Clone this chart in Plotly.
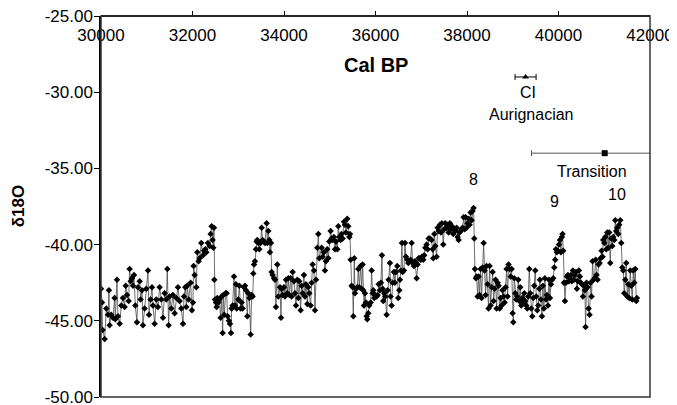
import plotly.graph_objects as go

# GISP2-style delta18O record
cal_bp = [
    30000, 30021, 30036, 30080, 30116, 30153, 30174, 30189, 30225, 30262, 30298, 30313, 30349, 30371, 30408,
    30444, 30480, 30517, 30539, 30568, 30604, 30626, 30648, 30677, 30699, 30721, 30750, 30786, 30808, 30845,
    30866, 30896, 30917, 30954, 30990, 31027, 31049, 31085, 31114, 31136, 31172, 31209, 31245, 31282, 31318,
    31355, 31391, 31428, 31449, 31478, 31500, 31537, 31573, 31610, 31646, 31682, 31719, 31755, 31792, 31814,
    31843, 31865, 31886, 31916, 31959, 31988, 32010, 32025, 32047, 32083, 32105, 32134, 32156, 32192, 32229,
    32251, 32280, 32302, 32338, 32374,
    32397, 32418, 32440, 32455, 32469, 32477, 32491, 32513, 32528, 32542, 32564, 32586, 32615, 32637, 32659,
    32673, 32695, 32724, 32746, 32768, 32797, 32819, 32841, 32856, 32877, 32907, 32928, 32950, 32965, 33001,
    33023, 33052, 33074, 33096, 33125, 33147, 33169, 33198, 33220, 33242, 33271, 33293, 33314, 33329, 33344,
    33365, 33387, 33402, 33416, 33438, 33460, 33489, 33511, 33533, 33562, 33584, 33620, 33635, 33657, 33679,
    33693, 33715, 33730, 33752, 33781, 33803, 33824, 33854, 33876, 33912, 33934, 33948, 33970, 33999, 34021,
    34043, 34072, 34094, 34116, 34145, 34167, 34189, 34218, 34240, 34262, 34291, 34313, 34334, 34364, 34385,
    34407, 34436, 34458, 34480, 34509, 34531, 34553, 34582, 34604, 34626, 34655, 34677, 34699, 34728, 34750,
    34771,
    34822, 34844, 34873, 34895, 34917, 34946, 34968, 34990, 35019, 35041, 35063, 35092, 35114, 35136, 35165,
    35187, 35209, 35238, 35260, 35281, 35311, 35332, 35354, 35383, 35405, 35427, 35442, 35456, 35478, 35500,
    35515, 35536, 35551, 35573, 35602, 35624, 35646, 35675, 35697, 35718, 35733, 35748, 35769, 35791, 35806,
    35820, 35842, 35864, 35893, 35915, 35937, 35952, 35973, 35995, 36024, 36046, 36068, 36097, 36119, 36141,
    36156, 36170, 36192, 36214, 36243, 36265, 36287, 36316, 36330, 36352, 36374, 36403, 36425, 36447, 36476,
    36498, 36520, 36534, 36556, 36578, 36593, 36622, 36644, 36666, 36695, 36717, 36738, 36768, 36789, 36811,
    36840, 36862, 36899, 36920, 36942, 36971, 36993, 37015, 37044, 37066, 37088, 37117, 37139, 37161,
    37190, 37226, 37248, 37263, 37285, 37307, 37336, 37358, 37379, 37409, 37430, 37452, 37481, 37503, 37525,
    37554, 37576, 37598, 37627, 37649, 37671, 37700, 37722, 37744, 37773, 37795, 37817, 37838, 37860, 37882,
    37904, 37926, 37948, 37970, 37991, 38013, 38035, 38057, 38079, 38101, 38122, 38144, 38159, 38173, 38195,
    38210, 38232, 38254, 38275, 38297, 38319, 38341, 38363, 38385, 38407, 38428, 38450, 38472, 38494, 38516,
    38538, 38560, 38581, 38603, 38625, 38647, 38669, 38691, 38713, 38734, 38756, 38778, 38800, 38822, 38844,
    38866, 38887, 38909, 38931, 38953, 38975, 38997, 39011, 39033, 39055, 39077, 39099, 39121, 39142, 39164,
    39186, 39208, 39230, 39252, 39273, 39295, 39317, 39339, 39361, 39383, 39405, 39426, 39448, 39470, 39492,
    39514, 39536, 39558, 39580,
    39594, 39616, 39638, 39660, 39681, 39703, 39725, 39747, 39769, 39791, 39813, 39834, 39856, 39885, 39907,
    39929, 39944, 39966, 39987, 40009, 40031, 40053, 40075, 40089, 40104, 40119, 40140, 40162, 40184, 40206,
    40228, 40250, 40271, 40293, 40315, 40337, 40359, 40381, 40403, 40424, 40446, 40468, 40490, 40512, 40534,
    40556, 40577, 40592, 40614, 40636, 40658, 40679, 40701, 40723, 40745, 40767, 40789, 40811, 40832, 40854,
    40876, 40898, 40920, 40942, 40964, 40978, 41000, 41022, 41044, 41066, 41087, 41109, 41131, 41153, 41175,
    41197, 41219, 41240, 41262, 41284, 41306, 41328, 41350, 41372, 41393, 41415, 41437, 41459, 41481, 41503,
    41525, 41546, 41568, 41590, 41612, 41634, 41656, 41678, 41700, 41714,
]

d18o = [
    -42.9, -43.8, -45.6, -46.2, -44.2, -44.6, -43.0, -45.3, -44.6, -44.8, -43.5, -44.9, -42.3, -44.7, -45.2,
    -44.0, -43.5, -44.1, -42.7, -43.3, -43.7, -41.6, -42.4, -42.2, -42.7, -42.0, -44.0, -45.1, -42.8, -42.4,
    -43.6, -43.0, -45.3, -44.2, -42.9, -41.7, -44.6, -43.6, -42.8, -44.0, -45.2, -43.6, -44.1, -42.8, -43.6,
    -44.8, -43.2, -43.6, -41.6, -45.3, -43.4, -44.2, -43.3, -44.5, -43.5, -42.8, -43.7, -44.2, -45.2, -43.4,
    -42.8, -44.1, -42.7, -43.6, -42.5, -44.3, -43.8, -41.4, -42.0, -42.8, -40.5, -41.1, -40.9, -39.9, -40.7,
    -40.4, -40.3, -40.5, -39.9, -40.1,
    -39.3, -38.8, -39.7, -40.2, -38.9, -42.3, -43.6, -43.8, -44.1, -43.5, -43.8, -43.6, -44.8, -43.4, -45.8,
    -43.3, -44.6, -43.2, -43.2, -44.7, -45.0, -45.2, -45.8, -44.2, -44.0, -42.1, -44.0, -42.6, -44.2, -43.6,
    -42.7, -44.2, -43.8, -44.2, -42.8, -42.7, -43.0, -44.7, -43.2, -43.5, -45.9, -43.3, -43.4, -41.9, -41.3,
    -41.1, -40.3, -39.8, -39.7, -39.9, -40.3, -39.9, -38.9, -39.7, -39.8, -39.9, -38.6, -39.9, -39.1, -39.7,
    -40.5, -39.9, -41.8, -42.0, -42.2, -42.3, -44.1, -41.3, -43.4, -42.8, -44.8, -42.9, -43.3, -42.8, -43.4,
    -42.3, -43.2, -42.2, -43.3, -42.2, -43.4, -41.8, -42.4, -43.2, -44.0, -42.3, -43.5, -42.4, -44.3, -42.7,
    -43.2, -42.0, -43.4, -42.6, -43.9, -42.8, -43.2, -44.0, -42.5, -41.3, -41.7, -44.3, -42.3, -40.2, -39.3,
    -40.9,
    -40.2, -40.8, -40.5, -41.7, -41.1, -40.3, -40.9, -39.8, -39.1, -39.6, -39.7, -39.5, -40.3, -39.8, -40.3,
    -38.8, -39.5, -39.7, -39.3, -39.6, -38.5, -38.7, -39.2, -38.3, -38.8, -39.5, -39.3, -41.0, -42.7, -42.8,
    -44.7, -40.9, -43.2, -42.9, -42.8, -41.6, -42.8, -41.4, -42.9, -41.3, -43.0, -44.0, -43.2, -43.8, -44.7,
    -44.9, -44.5, -44.0, -43.8, -41.7, -43.2, -43.0, -43.5, -43.3, -43.4, -43.3, -42.6, -43.0, -42.5, -40.7,
    -42.9, -43.7, -43.2, -43.4, -44.6, -43.0, -42.3, -41.2, -43.4, -44.0, -42.5, -41.8, -42.5, -41.8, -41.4,
    -43.5, -43.0, -42.3, -41.7, -39.9, -41.8, -41.7, -39.9, -40.8, -41.0, -41.2, -41.1, -41.0, -39.9, -41.2,
    -41.4, -41.1, -42.2, -41.3, -40.9, -40.9, -41.0, -40.8, -41.0, -40.7, -40.2, -40.0, -40.3, -39.6,
    -39.6, -39.7, -40.3, -40.9, -39.3, -40.1, -40.8, -38.9, -39.1, -38.7, -39.2, -38.6, -40.0, -39.0, -38.6,
    -38.9, -38.7, -39.2, -38.6, -39.0, -38.8, -39.3, -39.0, -39.1, -38.9, -39.5, -39.7, -39.2, -39.1, -39.0,
    -38.9, -38.2, -39.0, -38.2, -38.9, -38.6, -38.3, -38.7, -37.9, -38.4, -37.8, -37.6, -39.6, -41.6, -42.2,
    -42.1, -43.4, -42.1, -43.3, -41.6, -43.5, -41.5, -39.9, -41.7, -43.3, -41.4, -42.6, -44.2, -41.4, -44.0,
    -42.8, -41.8, -43.7, -42.9, -42.3, -44.2, -42.5, -42.7, -44.2, -43.5, -44.0, -43.0, -43.4, -43.8, -42.8,
    -41.6, -43.4, -41.3, -41.6, -42.1, -41.6, -44.5, -45.1, -42.2, -43.2, -43.6, -43.4, -42.3, -43.7, -42.8,
    -44.0, -43.5, -43.8, -43.2, -43.7, -44.0, -44.2, -43.4, -41.6, -43.2, -44.2, -44.7, -43.5, -42.7, -41.7,
    -43.4, -44.3, -44.0, -42.9,
    -42.3, -43.6, -44.7, -42.7, -44.2, -42.2, -43.6, -43.3, -44.0, -42.3, -43.5, -42.6, -42.3, -42.2, -41.5,
    -41.0, -40.3, -40.5, -40.4, -40.0, -39.7, -40.5, -39.5, -39.3, -40.4, -42.5, -43.7, -42.5, -42.1, -42.0,
    -42.4, -42.2, -42.0, -42.4, -41.7, -42.3, -42.0, -41.8, -42.9, -42.4, -41.7, -42.1, -42.5, -42.6, -43.4,
    -42.7, -43.0, -45.4, -42.5, -42.8, -44.2, -44.6, -42.5, -43.4, -41.1, -42.3, -42.2, -41.0, -42.0, -42.3,
    -41.3, -41.2, -40.9, -40.4, -40.8, -39.7, -39.9, -39.5, -40.3, -39.2, -40.2, -39.2, -41.2, -39.6, -40.1,
    -39.5, -39.7, -38.4, -39.1, -38.9, -39.3, -38.7, -38.4, -39.9, -41.5, -41.7, -43.2, -42.3, -41.2, -43.4,
    -42.6, -43.5, -41.7, -42.7, -43.6, -41.7, -42.5, -41.6, -43.7, -43.5,
]

# Dated markers
ci_age = [39280]
ci_value = [-29.0]
ci_err = [230]
transition_age = [41010]
transition_value = [-34.0]
transition_err = [1600]

# Interstadial labels
is_labels = ["8", "9", "10"]
is_ages = [38150, 39920, 41270]
is_values = [-35.7, -37.15, -36.7]

x_ticks = [30000, 32000, 34000, 36000, 38000, 40000, 42000]
x_tick_text = ["30000", "32000", "34000", "36000", "38000", "40000", "42000"]
y_ticks = [-50, -45, -40, -35, -30, -25]
y_tick_text = ["-50.00", "-45.00", "-40.00", "-35.00", "-30.00", "-25.00"]

FONT = "Liberation Sans, Arial, sans-serif"

fig = go.Figure()

fig.add_trace(go.Scatter(
    x=cal_bp, y=d18o, mode="lines+markers",
    line=dict(color="#4a4a4a", width=0.8),
    marker=dict(symbol="diamond", size=5, color="black"),
    showlegend=False,
))

fig.add_trace(go.Scatter(
    x=ci_age, y=ci_value, mode="markers",
    marker=dict(symbol="triangle-up", size=6, color="black"),
    error_x=dict(type="data", array=ci_err, color="black", thickness=1, width=3),
    showlegend=False,
))

fig.add_trace(go.Scatter(
    x=transition_age, y=transition_value, mode="markers",
    marker=dict(symbol="square", size=6, color="black"),
    error_x=dict(type="data", array=transition_err, color="#555555", thickness=1, width=3),
    showlegend=False,
))

annotations = []
for lab, xa, ya in zip(is_labels, is_ages, is_values):
    annotations.append(dict(x=xa, y=ya, text=lab, showarrow=False,
                            font=dict(family=FONT, size=16, color="black")))

annotations += [
    dict(x=39330, y=-30.05, text="CI", showarrow=False, font=dict(family=FONT, size=16, color="black")),
    dict(x=39420, y=-31.45, text="Aurignacian", showarrow=False, font=dict(family=FONT, size=16, color="black")),
    dict(x=40740, y=-35.2, text="Transition", showarrow=False, font=dict(family=FONT, size=16, color="black")),
    dict(x=36000, y=-28.2, text="<b>Cal BP</b>", showarrow=False, font=dict(family=FONT, size=20, color="black")),
    dict(xref="paper", yref="paper", x=-0.151, y=0.501, xanchor="center", yanchor="middle",
         text="<b>δ18O</b>", textangle=-90,
         showarrow=False, font=dict(family=FONT, size=17, color="black")),
]

# the page body adds an 8px offset, so the figure is sized to fit inside it
fig.update_layout(
    template="none",
    width=669, height=397,
    margin=dict(l=93, r=27, t=8, b=8, autoexpand=False),
    paper_bgcolor="white", plot_bgcolor="white",
    font=dict(family=FONT, size=17, color="black"),
    annotations=annotations,
    shapes=[dict(type="rect", xref="paper", yref="paper", x0=0, x1=1, y0=0, y1=1,
                 line=dict(color="#333333", width=1.5), layer="above")],
    xaxis=dict(
        range=[30000, 42000], tickvals=x_ticks, ticktext=x_tick_text,
        side="bottom", anchor="free", position=1, automargin=False,
        ticks="inside", ticklen=4, tickcolor="black", ticklabelstandoff=4,
        ticklabeloverflow="allow",
        showline=True, linecolor="black", linewidth=1.5,
        showgrid=False, zeroline=False,
        tickfont=dict(family=FONT, size=17, color="black"),
    ),
    yaxis=dict(
        range=[-50, -25], tickvals=y_ticks, ticktext=y_tick_text, automargin=False,
        ticks="outside", ticklen=5, tickcolor="black", ticklabelstandoff=-2,
        ticklabeloverflow="allow",
        showline=True, linecolor="black", linewidth=1.5,
        showgrid=False, zeroline=False,
        tickfont=dict(family=FONT, size=17, color="black"),
    ),
)

fig.write_html("out.html")
